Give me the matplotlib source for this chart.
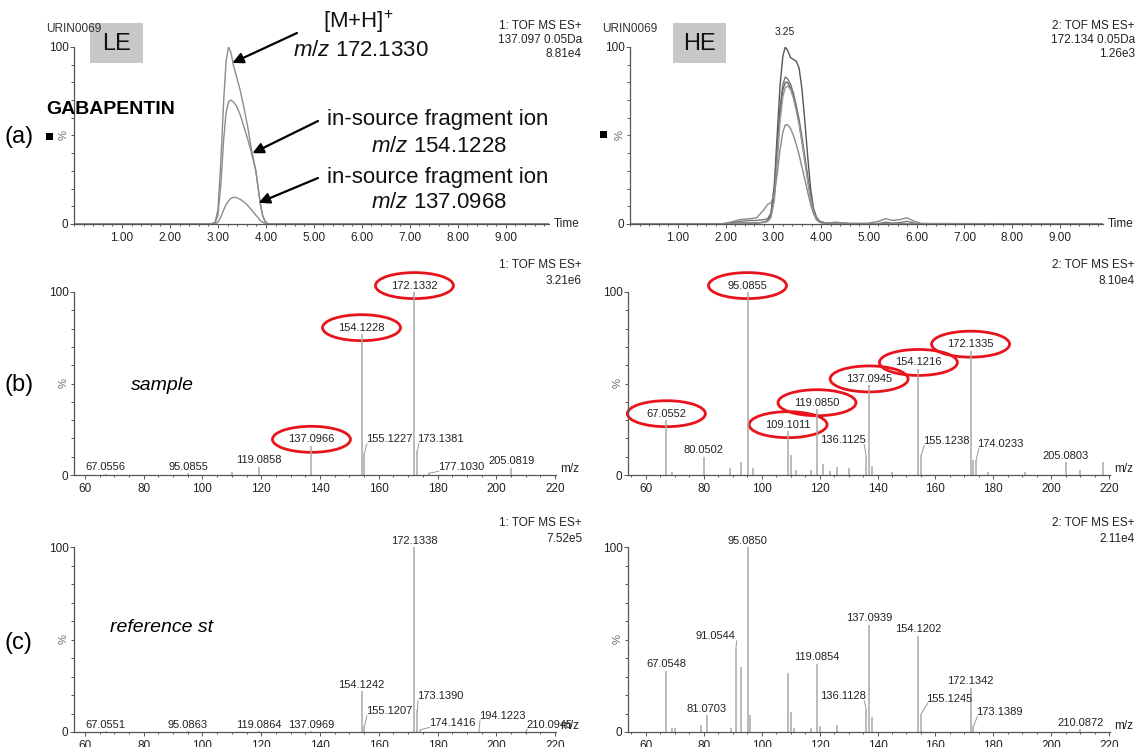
import numpy as np
import matplotlib
matplotlib.use('Agg')
import matplotlib.pyplot as plt
from matplotlib.patches import Ellipse, Rectangle
from matplotlib.ticker import FixedLocator, MultipleLocator, FormatStrFormatter
from matplotlib.transforms import offset_copy

plt.rcParams['font.family'] = ['Liberation Sans', 'DejaVu Sans']
plt.rcParams['mathtext.fontset'] = 'custom'
plt.rcParams['mathtext.rm'] = 'Liberation Sans'
plt.rcParams['mathtext.it'] = 'Liberation Sans:italic'

# ---- (a) chromatograms, LE (three traces) ----
t_le = [0, 2.85, 2.94, 3.0, 3.06, 3.12, 3.17, 3.22, 3.27, 3.32, 3.38,
        3.46, 3.54, 3.62, 3.70, 3.79, 3.84, 3.88, 3.93, 3.98, 4.05, 9.9]
le_172 = [0, 0, 1, 8, 35, 70, 92, 100, 97, 90, 84, 76, 66, 55, 42, 30, 20, 12, 5, 1.5, 0, 0]
le_154 = [0, 0, 0.5, 5, 22, 48, 63, 69, 70, 69, 67, 62, 55, 48, 40, 30, 20, 12, 5, 1.5, 0, 0]
le_137 = [0, 0, 0, 1, 4, 8, 11, 13, 14.5, 15, 15, 14, 12.5, 10.5, 8, 5, 3.5, 2, 1, 0.3, 0, 0]

# ---- (a) chromatograms, HE (five traces) ----
t_he = [0, 1.9, 2.1, 2.3, 2.5, 2.65, 2.8, 2.88, 2.95, 3.02, 3.08, 3.14, 3.2, 3.25, 3.3,
        3.36, 3.42, 3.48, 3.54, 3.6, 3.66, 3.72, 3.78, 3.84, 3.9, 3.97, 4.1, 4.3, 4.6, 5.0,
        5.2, 5.35, 5.5, 5.65, 5.8, 5.95, 6.1, 9.9]
he_1 = [0, 0, 0.3, 0.5, 0.5, 0.5, 1, 2, 6, 22, 50, 78, 95, 100, 98, 94, 93, 92, 88, 76,
        58, 38, 20, 9, 4, 1.5, 0.5, 0.8, 0, 0, 0, 0, 0, 0, 0, 0, 0, 0]
he_2 = [0, 0, 0.5, 1.5, 2, 2, 2.5, 3, 6, 18, 42, 66, 79, 83, 82, 79, 74, 67, 59, 49,
        38, 27, 16, 8, 3.5, 1.5, 0.5, 0.8, 0.3, 0, 0.3, 1, 0.5, 0.8, 1.5, 0.5, 0, 0]
he_3 = [0, 0, 0, 0.3, 0.5, 0.5, 1, 1.5, 4, 15, 38, 62, 76, 80, 80, 77, 72, 65, 57, 47,
        36, 25, 15, 7, 3, 1, 0.3, 0.5, 0, 0, 0, 0, 0, 0, 0, 0, 0, 0]
he_4 = [0, 0, 0, 0.3, 0.5, 0.5, 1, 1.5, 3.5, 13, 35, 58, 72, 77, 78, 76, 71, 64, 56, 46,
        35, 24, 14, 7, 3, 1, 0.3, 0.5, 0, 0, 0, 0, 0, 0, 0, 0, 0, 0]
he_5 = [0, 0, 1, 2.5, 3, 3.5, 8, 11, 12, 17, 28, 42, 52, 56, 56, 54, 50, 45, 39, 32,
        25, 18, 11, 6, 2.5, 1, 0.5, 1, 0.3, 0.5, 1.5, 3, 2, 2.5, 3.5, 1.5, 0.3, 0]

# ---- (b) sample spectra ----
b_le_mz = [67.0556, 95.0855, 110.0, 119.0858, 137.0966, 154.1228, 155.1227,
           172.1332, 173.1381, 177.1030, 205.0819]
b_le_int = [0.6, 1.0, 1.5, 4.5, 16, 77, 12, 100, 13, 1.0, 4.0]
b_le_lab = ['67.0556', '95.0855', '', '119.0858', '137.0966', '154.1228', '155.1227',
            '172.1332', '173.1381', '177.1030', '205.0819']

b_he_mz = [67.0552, 69.0, 80.0502, 89.0, 93.0, 95.0855, 97.0, 109.1011, 110.1, 112.0,
           117.0, 119.0850, 121.0, 123.5, 126.0, 130.0, 136.1125, 137.0945, 138.0, 145.0,
           154.1216, 155.1238, 172.1335, 173.1, 174.0233, 178.0, 191.0, 205.0803, 210.0, 218.0]
b_he_int = [30, 1.5, 10, 4, 7, 100, 4, 24, 11, 3, 3, 36, 6, 2, 4.5, 4, 10, 49, 5, 1.5,
            58, 11, 68, 8, 8, 1.5, 1.5, 7, 2.5, 7]
b_he_lab = ['67.0552', '', '80.0502', '', '', '95.0855', '', '109.1011', '', '',
            '', '119.0850', '', '', '', '', '136.1125', '137.0945', '', '',
            '154.1216', '155.1238', '172.1335', '', '174.0233', '', '', '205.0803', '', '']

# ---- (c) reference standard spectra ----
c_le_mz = [67.0551, 95.0863, 119.0864, 137.0969, 154.1242, 155.1207, 172.1338,
           173.1390, 174.1416, 194.1223, 210.0945]
c_le_int = [0.3, 0.3, 0.5, 0.5, 22, 3, 100, 12, 1.2, 0.8, 0.6]
c_le_lab = ['67.0551', '95.0863', '119.0864', '137.0969', '154.1242', '155.1207',
            '172.1338', '173.1390', '174.1416', '194.1223', '210.0945']

c_he_mz = [67.0548, 69.0, 70.0, 79.0, 81.0703, 89.5, 91.0544, 92.9, 95.0850, 96.0,
           109.1, 110.1, 111.0, 117.0, 119.0854, 120.0, 126.0, 136.1128, 137.0939, 138.0,
           154.1202, 155.1245, 172.1342, 173.1389, 210.0872]
c_he_int = [33, 2, 2, 4, 9, 2, 45, 35, 100, 9, 32, 11, 2, 2, 37, 3, 4, 12, 58, 8,
            52, 10, 24, 3, 1.5]
c_he_lab = ['67.0548', '', '', '', '81.0703', '', '91.0544', '', '95.0850', '',
            '', '', '', '', '119.0854', '', '', '136.1128', '137.0939', '',
            '154.1202', '155.1245', '172.1342', '173.1389', '210.0872']

b_le_circ = ['137.0966', '154.1228', '172.1332']
b_he_circ = ['67.0552', '95.0855', '109.1011', '119.0850', '137.0945', '154.1216', '172.1335']

# labels moved away from their peak: (m/z shift, label height)
b_le_moved = {'155.1227': (8.3, 19.5), '173.1381': (8.0, 19.5), '177.1030': (10.8, 4.5)}
b_he_moved = {'136.1125': (-8.2, 19), '155.1238': (8.5, 18.5), '174.0233': (8.5, 17)}
c_le_moved = {'155.1207': (8.3, 11.3), '173.1390': (7.7, 19.4), '174.1416': (10.7, 5),
              '194.1223': (7.8, 8.6), '210.0945': (8.0, 4)}
c_he_moved = {'91.0544': (-7.2, 51.8), '136.1128': (-8.2, 19.4), '155.1245': (9.7, 18),
              '173.1389': (8.8, 10.8)}

W, H = 1140, 747
fig = plt.figure(figsize=(W / 100, H / 100), dpi=100)

ov = fig.add_axes([0, 0, 1, 1])
ov.set_xlim(0, W)
ov.set_ylim(H, 0)
ov.axis('off')
ov.set_zorder(10)


def base_axes(rect, xlim):
    l, r, t, b = rect
    ax = fig.add_axes([l / W, 1 - b / H, (r - l) / W, (b - t) / H])
    ax.set_xlim(*xlim)
    ax.set_ylim(0, 100)
    ax.patch.set_visible(False)
    for s in ('top', 'right'):
        ax.spines[s].set_visible(False)
    for s in ('left', 'bottom'):
        ax.spines[s].set_color('#555')
        ax.spines[s].set_linewidth(0.9)
    ax.set_yticks([0, 100])
    ax.yaxis.set_minor_locator(MultipleLocator(10))
    ax.tick_params(which='both', colors='#555', labelcolor='#222', width=0.7)
    ax.tick_params(axis='y', which='major', length=3, labelsize=8.5, pad=1)
    ax.tick_params(axis='y', which='minor', length=2)
    ax.tick_params(axis='x', which='major', length=3, labelsize=8.5, pad=3)
    ax.tick_params(axis='x', which='minor', length=1.5)
    pct = offset_copy(ax.get_yaxis_transform(), fig=fig, x=-10, y=0, units='dots')
    ax.text(0, 50, '%', transform=pct, rotation=90, ha='center', va='center',
            fontsize=8, color='#666')
    return ax


def chrom_axes(rect):
    ax = base_axes(rect, (0, 9.9))
    ax.xaxis.set_major_locator(FixedLocator(range(1, 10)))
    ax.xaxis.set_major_formatter(FormatStrFormatter('%.2f'))
    ax.xaxis.set_minor_locator(MultipleLocator(0.2))
    tr = offset_copy(ax.transAxes, fig=fig, x=5, y=0, units='dots')
    ax.text(1, 0, 'Time', transform=tr, ha='left', va='center', fontsize=8.5, color='#222')
    return ax


def spec_axes(rect, xlim, mz, inten, labels, circled, moved):
    ax = base_axes(rect, xlim)
    ax.xaxis.set_major_locator(MultipleLocator(20))
    ax.xaxis.set_minor_locator(MultipleLocator(5))
    ax.vlines(mz, 0, inten, color='#a8a8a8', lw=1.1)
    ppx = (rect[1] - rect[0]) / (xlim[1] - xlim[0])
    ppy = (rect[3] - rect[2]) / 100
    for m, v, s in zip(mz, inten, labels):
        if not s:
            continue
        if s in moved:
            dx, y = moved[s]
            x = m + dx
            ax.plot([m, x - np.sign(dx) * 7.5], [v, y - 2.5], color='#999', lw=0.7,
                    clip_on=False)
        else:
            x, y = m, v + 3.5
        ax.text(x, y, s, ha='center', va='center', fontsize=8, color='#222', clip_on=False)
        if s in circled:
            ax.add_patch(Ellipse((x, y), 78 / ppx, 26 / ppy, fill=False, ec='#e8141c',
                                 lw=2, clip_on=False))
    tr = offset_copy(ax.transAxes, fig=fig, x=4, y=6, units='dots')
    ax.text(1, 0, 'm/z', transform=tr, ha='left', va='center', fontsize=8.5, color='#222')
    return ax


# ---- row (a) ----
ax_le = chrom_axes((74, 549, 47, 224))
for y in (le_172, le_154, le_137):
    ax_le.plot(t_le, y, color='#8c8c8c', lw=1)

ax_he = chrom_axes((630, 1103, 47, 224))
for y, c in zip((he_1, he_2, he_3, he_4, he_5), ('#555', '#777', '#666', '#999', '#8a8a8a')):
    ax_he.plot(t_he, y, color=c, lw=1)
i_max = int(np.argmax(he_1))
ax_he.annotate('%.2f' % t_he[i_max], (t_he[i_max], he_1[i_max]), xytext=(0, 7),
               textcoords='offset points', ha='center', va='bottom', fontsize=7.5,
               color='#222', annotation_clip=False)

# ---- rows (b) and (c) ----
spec_axes((74, 556, 292, 475), (56.3, 220.3), b_le_mz, b_le_int, b_le_lab, b_le_circ, b_le_moved)
spec_axes((628, 1110, 292, 475), (53.8, 220.3), b_he_mz, b_he_int, b_he_lab, b_he_circ, b_he_moved)
spec_axes((74, 556, 547, 732), (56.3, 220.3), c_le_mz, c_le_int, c_le_lab, [], c_le_moved)
spec_axes((628, 1110, 547, 732), (53.8, 220.3), c_he_mz, c_he_int, c_he_lab, [], c_he_moved)

# ---- headers ----
hdr = dict(ha='right', va='center', fontsize=8.5, color='#222')
for x, lines in ((582, ['1: TOF MS ES+', '137.097 0.05Da', '8.81e4']),
                 (1135, ['2: TOF MS ES+', '172.134 0.05Da', '1.26e3'])):
    for y, s in zip((26, 40, 54), lines):
        ov.text(x, y, s, **hdr)
for x, tag, rows in ((582, '1', (('3.21e6', 265), ('7.52e5', 523))),
                     (1135, '2', (('8.10e4', 265), ('2.11e4', 523)))):
    for val, y in rows:
        ov.text(x, y, tag + ': TOF MS ES+', **hdr)
        ov.text(x, y + 16, val, **hdr)

# ---- file names and LE / HE boxes ----
ov.text(46, 29, 'URIN0069', ha='left', va='center', fontsize=8.5, color='#333')
ov.text(602, 29, 'URIN0069', ha='left', va='center', fontsize=8.5, color='#333')
for x0, s in ((90, 'LE'), (673, 'HE')):
    ov.add_patch(Rectangle((x0, 23), 53, 40, fc='#c8c8c8', ec='none'))
    ov.text(x0 + 26.5, 44, s, ha='center', va='center', fontsize=17, color='#111')

# ---- panel labels ----
ov.text(46, 110, 'GABAPENTIN', ha='left', va='center', fontsize=14, fontweight='bold')
ov.add_patch(Rectangle((46, 133), 7, 7, fc='black', ec='none'))
ov.add_patch(Rectangle((600, 131), 7, 7, fc='black', ec='none'))
for y, s in ((137, '(a)'), (385, '(b)'), (643, '(c)')):
    ov.text(5, y, s, ha='left', va='center', fontsize=17)
ov.text(131, 386, 'sample', ha='left', va='center', fontsize=14, style='italic')
ov.text(110, 627, 'reference st', ha='left', va='center', fontsize=14, style='italic')

# ---- ion annotations with arrows ----
ann = dict(ha='center', va='center', fontsize=16, color='#111')
ov.text(358, 22, '[M+H]$^{+}$', **ann)
ov.text(361, 51, '$m/z$ 172.1330', **ann)
ov.text(438, 120, 'in-source fragment ion', **ann)
ov.text(439, 147, '$m/z$ 154.1228', **ann)
ov.text(438, 177, 'in-source fragment ion', **ann)
ov.text(439, 203, '$m/z$ 137.0968', **ann)
arrow = dict(arrowstyle='-|>', color='black', lw=1.6, mutation_scale=16, shrinkA=0, shrinkB=0)
for tip, tail in (((3.30, 91), (297, 33)), ((3.72, 40), (318, 121)), ((3.85, 12), (318, 178))):
    ax_le.annotate('', xy=tip, xytext=tail, textcoords=ov.transData,
                   arrowprops=arrow, annotation_clip=False)

fig.savefig('out.png', dpi=100)
